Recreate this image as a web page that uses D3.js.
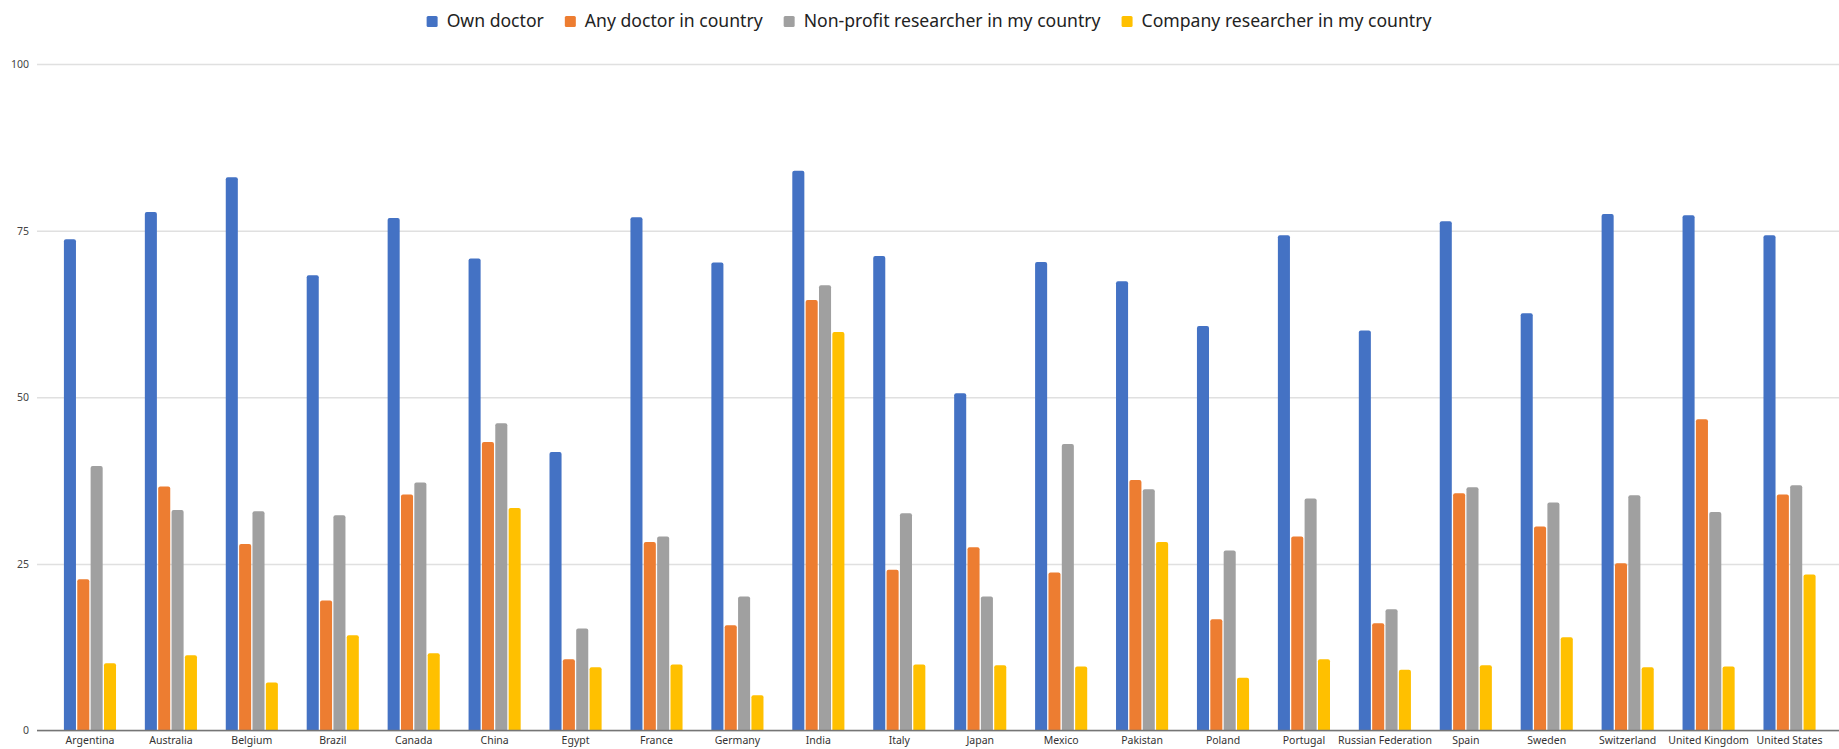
<!DOCTYPE html>
<html>
<head>
<meta charset="utf-8">
<script src="https://cdn.jsdelivr.net/npm/d3@7/dist/d3.min.js"></script>
<style>
  html, body { margin: 0; padding: 0; background: #fff; }
  svg { display: block; }
  .tick text { font-family: "Noto Sans", "Open Sans", sans-serif; }
</style>
</head>
<body>
<svg id="chart" width="1839" height="749"></svg>
<script>
// Countries along the x axis
const countries = ["Argentina", "Australia", "Belgium", "Brazil", "Canada", "China", "Egypt",
  "France", "Germany", "India", "Italy", "Japan", "Mexico", "Pakistan", "Poland", "Portugal",
  "Russian Federation", "Spain", "Sweden", "Switzerland", "United Kingdom", "United States"];

// Series names (legend order)
const seriesNames = ["Own doctor", "Any doctor in country",
  "Non-profit researcher in my country", "Company researcher in my country"];

// Percent willing to share data with each party
const ownDoctor = [73.7, 77.8, 83.0, 68.3, 76.9, 70.8, 41.8, 77.0, 70.2, 84.0, 71.2, 50.6,
  70.3, 67.4, 60.7, 74.3, 60.0, 76.4, 62.6, 77.5, 77.3, 74.3];
const anyDoctor = [22.7, 36.6, 28.0, 19.5, 35.4, 43.3, 10.7, 28.3, 15.8, 64.6, 24.1, 27.5,
  23.7, 37.6, 16.7, 29.1, 16.1, 35.6, 30.6, 25.1, 46.7, 35.4];
const nonProfitResearcher = [39.7, 33.1, 32.9, 32.3, 37.2, 46.1, 15.3, 29.1, 20.1, 66.8, 32.6, 20.1,
  43.0, 36.2, 27.0, 34.8, 18.2, 36.5, 34.2, 35.3, 32.8, 36.8];
const companyResearcher = [10.1, 11.3, 7.2, 14.3, 11.6, 33.4, 9.5, 9.9, 5.3, 59.8, 9.9, 9.8,
  9.6, 28.3, 7.9, 10.7, 9.1, 9.8, 14.0, 9.5, 9.6, 23.4];

// Y axis tick values
const yTicks = [0, 25, 50, 75, 100];

const seriesValues = [ownDoctor, anyDoctor, nonProfitResearcher, companyResearcher];
const colors = ["#4472C4", "#ED7D31", "#A0A0A0", "#FFC000"];

const svg = d3.select("#chart");
const plotLeft = 37, plotRight = 1839;

const x0 = d3.scaleBand()
  .domain(countries)
  .range([49.5, 1830])
  .paddingInner(0.34)
  .paddingOuter(0.17);

const x1 = d3.scaleBand()
  .domain(seriesNames)
  .range([0, x0.bandwidth()]);

const y = d3.scaleLinear().domain([0, 100]).range([730.5, 64]);

// Gridlines and y tick labels
const yAxis = svg.append("g")
  .attr("transform", `translate(${plotLeft},0)`)
  .call(d3.axisLeft(y).tickValues(yTicks).tickSize(-(plotRight - plotLeft)).tickPadding(8));
yAxis.select(".domain").remove();
yAxis.selectAll(".tick line").attr("stroke", "#e0e0e0").attr("stroke-width", 1.5);
yAxis.selectAll(".tick text").attr("fill", "#444").attr("font-size", 10.5);

// Rounded-top bar path
function barPath(x, yTop, w, yBase) {
  const r = Math.min(2, (yBase - yTop) / 2, w / 2);
  return `M${x},${yBase}V${yTop + r}Q${x},${yTop} ${x + r},${yTop}H${x + w - r}` +
         `Q${x + w},${yTop} ${x + w},${yTop + r}V${yBase}Z`;
}

const rows = countries.map((c, i) => ({
  country: c,
  values: seriesNames.map((s, k) => ({ key: s, k, value: seriesValues[k][i] }))
}));

const groups = svg.append("g").selectAll("g")
  .data(rows)
  .join("g")
  .attr("transform", d => `translate(${x0(d.country)},0)`);

const gap = 1.3;
groups.selectAll("path")
  .data(d => d.values)
  .join("path")
  .attr("d", d => barPath(x1(d.key) + gap / 2, y(d.value), x1.bandwidth() - gap, y(0)))
  .attr("fill", d => colors[d.k]);

// Baseline
svg.append("line")
  .attr("x1", plotLeft).attr("x2", plotRight)
  .attr("y1", y(0)).attr("y2", y(0))
  .attr("stroke", "#757575").attr("stroke-width", 1.5);

// Category labels
const xAxis = svg.append("g")
  .attr("transform", `translate(0,${y(0)})`)
  .call(d3.axisBottom(x0).tickSize(0).tickPadding(6));
xAxis.select(".domain").remove();
xAxis.selectAll(".tick text").attr("fill", "#333").attr("font-size", 10.5);

// Legend: laid out left to right, then centred above the plot
const legend = svg.append("g");
const swatch = 11, textGap = 9, itemGap = 21;
let cursor = 0;
seriesNames.forEach((name, k) => {
  legend.append("rect")
    .attr("x", cursor).attr("y", 16)
    .attr("width", swatch).attr("height", swatch).attr("rx", 1.5)
    .attr("fill", colors[k]);
  const t = legend.append("text")
    .attr("x", cursor + swatch + textGap).attr("y", 27)
    .attr("font-family", "\"Noto Sans\", \"Open Sans\", sans-serif")
    .attr("font-size", 17.6)
    .attr("fill", "#222")
    .text(name);
  cursor += swatch + textGap + t.node().getComputedTextLength() + itemGap;
});
const legendWidth = cursor - itemGap;
legend.attr("transform", `translate(${929 - legendWidth / 2},0)`);
</script>
</body>
</html>
